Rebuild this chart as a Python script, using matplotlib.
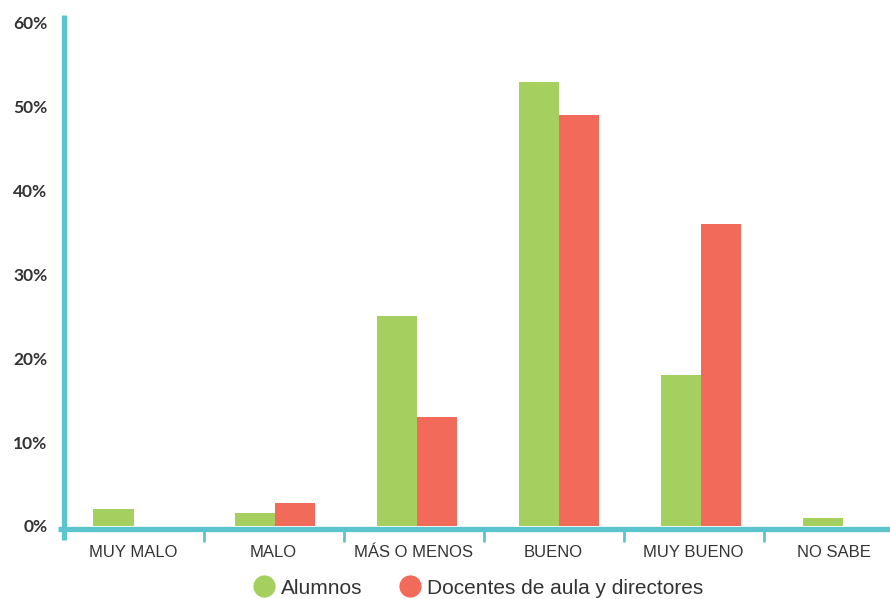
import matplotlib
matplotlib.use("Agg")
import matplotlib.pyplot as plt
from matplotlib.lines import Line2D
import numpy as np

categories = ["MUY MALO", "MALO", "MÁS O MENOS", "BUENO", "MUY BUENO", "NO SABE"]
alumnos = [2.0, 1.6, 25.0, 53.0, 18.0, 0.9]
docentes = [0.0, 2.8, 13.0, 49.0, 36.0, 0.0]
yticks = [0, 10, 20, 30, 40, 50, 60]
series_names = ["Alumnos", "Docentes de aula y directores"]

GREEN = "#A5CF5F"
RED = "#F26A5A"
TEAL = "#5BC5CE"
TEXT = "#333333"

W, H = 890, 599
fig = plt.figure(figsize=(W / 100, H / 100), dpi=100)
ax = fig.add_axes([63.5 / W, 73 / H, (W - 63.5) / W, 511.4 / H])

x = np.arange(len(categories))
# bar groups are laid out on a slightly wider pitch than the category ticks
group_pos = x * 1.013
bw = 0.286
ax.bar(group_pos - bw / 2, alumnos, width=bw, color=GREEN, linewidth=0, zorder=2)
ax.bar(group_pos + bw / 2, docentes, width=bw, color=RED, linewidth=0, zorder=2)

ax.set_xlim(-0.5, -0.5 + (W - 63.5) / 140)
ax.set_ylim(0, 61)

for s in ["top", "right"]:
    ax.spines[s].set_visible(False)
for s in ["left", "bottom"]:
    ax.spines[s].set_color(TEAL)
    ax.spines[s].set_linewidth(3.8)
    ax.spines[s].set_capstyle("butt")
ax.spines["bottom"].set_position(("outward", 1.8))
ax.spines["left"].set_bounds(-1.65, 61)
ax.spines["bottom"].set_bounds(-0.54, 6.5)

ax.set_yticks(yticks)
ax.set_yticklabels([f"{v}%" for v in yticks], fontsize=12.5, fontweight="bold",
                   color=TEXT, family=["Lato", "DejaVu Sans"])
ax.tick_params(axis="y", length=0, pad=11.5)

ax.set_xticks(x)
ax.set_xticklabels(categories, fontsize=12, color=TEXT,
                   family=["Liberation Sans Narrow", "Liberation Sans", "DejaVu Sans"])
ax.tick_params(axis="x", which="major", length=0, pad=12)
ax.set_xticks(x[:-1] + 0.5, minor=True)
ax.tick_params(axis="x", which="minor", length=9, width=2, color=TEAL, direction="out")

handles = [Line2D([], [], linestyle="none", marker="o", markersize=16,
                  markerfacecolor=c, markeredgewidth=0) for c in (GREEN, RED)]
fig.legend(handles, series_names, loc="center", bbox_to_anchor=(473 / W, 1 - 588 / H),
           ncol=2, frameon=False, handletextpad=-0.2, columnspacing=1.3,
           prop={"family": ["Liberation Sans Narrow", "Liberation Sans", "DejaVu Sans"], "size": 15},
           labelcolor=TEXT)

fig.savefig("out.png", dpi=100, facecolor="white")
